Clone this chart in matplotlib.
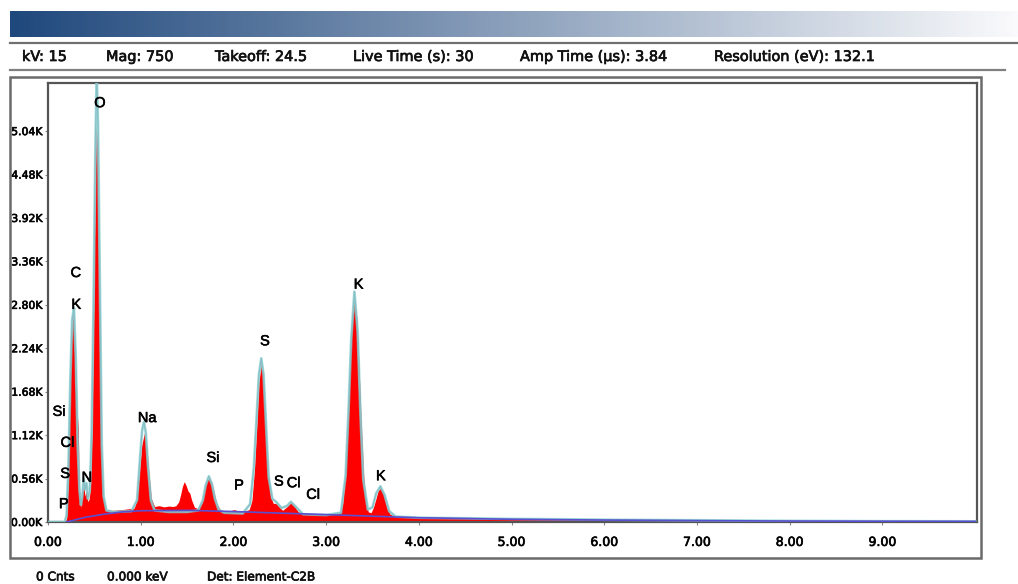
import matplotlib.pyplot as plt
import matplotlib.patheffects as pe
import numpy as np
from matplotlib.patches import Rectangle
from matplotlib.lines import Line2D

energy = [0.00, 0.18, 0.20, 0.215, 0.23, 0.245, 0.26, 0.275, 0.285, 0.295, 0.305, 0.315, 0.325,
          0.335, 0.345, 0.355, 0.37, 0.385, 0.40, 0.415, 0.43, 0.445, 0.46, 0.475, 0.49, 0.505,
          0.52, 0.535, 0.55, 0.565, 0.58, 0.60, 0.63, 0.70, 0.80, 0.93, 0.96, 0.985, 1.01, 1.04,
          1.065, 1.09, 1.115, 1.15, 1.20, 1.25, 1.30, 1.35, 1.38, 1.41, 1.43, 1.45, 1.47, 1.49,
          1.51, 1.53, 1.55, 1.58, 1.62, 1.66, 1.69, 1.715, 1.74, 1.765, 1.79, 1.82, 1.86, 1.95,
          2.01, 2.05, 2.12, 2.17, 2.20, 2.225, 2.25, 2.275, 2.30, 2.325, 2.35, 2.375, 2.40, 2.43,
          2.46, 2.49, 2.53, 2.58, 2.62, 2.66, 2.70, 2.80, 3.00, 3.155, 3.18, 3.205, 3.23, 3.255,
          3.28, 3.305, 3.33, 3.355, 3.38, 3.405, 3.43, 3.455, 3.485, 3.51, 3.535, 3.56, 3.585,
          3.61, 3.635, 3.66, 3.69, 3.75, 3.85, 4.00, 4.50, 5.00, 6.00, 7.00, 8.00, 9.00, 10.0]
counts = [0, 0, 40, 450, 1300, 2100, 2550, 2680, 2300, 1700, 2000, 1150, 1350,
          600, 280, 190, 380, 470, 330, 420, 260, 300, 500, 1200, 2400, 4000,
          5100, 4850, 3200, 1700, 700, 280, 160, 150, 160, 180, 300, 620, 980, 1150,
          980, 620, 300, 200, 210, 195, 205, 200, 210, 260, 350, 460, 520, 470,
          400, 370, 280, 190, 170, 250, 420, 540, 560, 520, 390, 240, 150, 140,
          160, 140, 140, 160, 280, 650, 1200, 1800, 2050, 1800, 1200, 650, 330, 240,
          240, 200, 150, 200, 250, 200, 130, 110, 100, 120, 250, 600, 1250, 2000,
          2650, 2850, 2650, 2000, 1250, 600, 250, 130, 120, 190, 290, 400, 440,
          400, 290, 170, 100, 75, 65, 58, 45, 38, 30, 22, 15, 10, 8]

# fitted outline
fit_energy = [0.00, 0.18, 0.20, 0.22, 0.24, 0.26, 0.28, 0.30, 0.32, 0.34, 0.355, 0.37, 0.385,
              0.40, 0.415, 0.43, 0.45, 0.47, 0.49, 0.51, 0.525, 0.54, 0.56, 0.58, 0.60, 0.63,
              0.70, 0.90, 0.96, 0.99, 1.015, 1.035, 1.055, 1.08, 1.11, 1.15, 1.30, 1.50, 1.62,
              1.67, 1.70, 1.735, 1.77, 1.80, 1.84, 1.90, 2.10, 2.18, 2.22, 2.25, 2.275, 2.30,
              2.325, 2.35, 2.38, 2.42, 2.46, 2.52, 2.58, 2.62, 2.67, 2.75, 3.00, 3.16, 3.21,
              3.24, 3.27, 3.305, 3.34, 3.37, 3.40, 3.45, 3.50, 3.54, 3.585, 3.63, 3.68, 3.75,
              4.00, 5.00, 6.00, 7.00, 8.00, 9.00, 10.0]
fit_counts = [0, 0, 80, 700, 1800, 2600, 2760, 2100, 1000, 400, 220, 330, 560,
              420, 500, 300, 400, 1100, 2700, 4700, 5800, 5100, 3000, 1000, 330, 150,
              130, 140, 280, 780, 1180, 1290, 1150, 700, 280, 150, 130, 130, 150,
              280, 470, 590, 480, 300, 160, 120, 110, 230, 700, 1350, 1900, 2110,
              1900, 1300, 580, 300, 260, 180, 210, 260, 200, 100, 90, 120, 600,
              1400, 2350, 2970, 2450, 1400, 550, 160, 190, 370, 460, 350, 140, 70,
              55, 40, 30, 22, 15, 10, 8]

# background curve
bg_energy = [0.20, 0.30, 0.40, 0.60, 0.80, 1.00, 1.50, 2.00, 2.50, 3.00, 3.50, 4.00, 5.00,
             6.00, 7.00, 8.00, 10.0]
bg_counts = [0, 30, 60, 100, 130, 145, 150, 135, 115, 95, 75, 55, 35, 25, 18, 12, 8]

# peak labels
peak_names = ['O', 'C', 'K', 'Si', 'Cl', 'S', 'N', 'P', 'Na', 'Si', 'P', 'S', 'S', 'Cl', 'Cl', 'K', 'K']
peak_x = [0.56, 0.30, 0.305, 0.12, 0.21, 0.185, 0.42, 0.17, 1.07, 1.78, 2.06, 2.34, 2.49, 2.65, 2.86, 3.35, 3.59]
peak_y = [5400, 3210, 2800, 1420, 1020, 620, 570, 230, 1340, 825, 470, 2330, 520, 500, 350, 3060, 590]

yticks = [0, 560, 1120, 1680, 2240, 2800, 3360, 3920, 4480, 5040]
xticks = [0, 1, 2, 3, 4, 5, 6, 7, 8, 9]

header = ['kV: 15', 'Mag: 750', 'Takeoff: 24.5', 'Live Time (s): 30',
          'Amp Time (\u00b5s): 3.84', 'Resolution (eV): 132.1']
header_x = [22, 106, 215, 353, 520, 714]
footer = ['0 Cnts', '0.000 keV', 'Det: Element-C2B']
footer_x = [36, 107, 207]

thick = [pe.withStroke(linewidth=0.5, foreground='#111111')]

W, H = 1018, 584
fig = plt.figure(figsize=(W / 100, H / 100), dpi=100)

# gradient banner
gax = fig.add_axes([10 / W, 1 - 37 / H, 1008 / W, 26 / H])
grad = np.linspace(0, 1, 256)
c0 = np.array([31, 72, 124]) / 255
c1 = np.array([250, 250, 252]) / 255
img = c0[None, :] * (1 - grad[:, None]) + c1[None, :] * grad[:, None]
gax.imshow(img[None, :, :], aspect='auto')
gax.axis('off')

fig.add_artist(Line2D([10 / W, 1.0], [1 - 43 / H] * 2, color='#707070', lw=1.6))
fig.add_artist(Line2D([10 / W, 1005 / W], [1 - 70 / H] * 2, color='#808080', lw=1.6))

for t, x in zip(header, header_x):
    fig.text(x / W, 1 - 57 / H, t, fontsize=10.4, family='DejaVu Sans',
             va='center', ha='left', color='#111111', path_effects=thick)
for t, x in zip(footer, footer_x):
    fig.text(x / W, 1 - 577 / H, t, fontsize=8.7, family='DejaVu Sans',
             va='center', ha='left', color='#111111', path_effects=thick)

# outer panel box
fig.add_artist(Rectangle((10 / W, 1 - 558 / H), 971 / W, 481 / H, transform=fig.transFigure,
                         fill=False, edgecolor='#6a6a6a', lw=1.8))

ax = fig.add_axes([48 / W, 1 - 522 / H, 929 / W, 439 / H])
ax.fill_between(energy, counts, 0, color='#ff0000', lw=0, zorder=2)
ax.plot(fit_energy, fit_counts, color='#8a9ea6', lw=1.0, zorder=3)
ax.plot(fit_energy, fit_counts, color='#86d0d4', lw=2.0, alpha=0.7, zorder=3)
ax.plot(bg_energy, bg_counts, color='#5a4fd0', lw=1.2, zorder=4)

for name, x, y in zip(peak_names, peak_x, peak_y):
    ax.text(x, y, name, fontsize=10.5, family='Liberation Sans', ha='center', va='center',
            color='black', zorder=5, path_effects=[pe.withStroke(linewidth=0.4, foreground='black')])

ax.set_xlim(0, 10.02)
ax.set_ylim(0, 5660)
ax.set_xticks(xticks)
ax.set_xticklabels(['%.2f' % v for v in xticks], fontsize=9, family='DejaVu Sans')
ax.set_yticks(yticks)
ax.set_yticklabels(['%.2fK' % (v / 1000) for v in yticks], fontsize=7.8, family='DejaVu Sans')
for lab in ax.get_xticklabels() + ax.get_yticklabels():
    lab.set_path_effects(thick)
ax.tick_params(axis='x', length=2, pad=8, color='#888888')
ax.tick_params(axis='y', length=2, pad=2, color='#888888')
for s in ax.spines.values():
    s.set_color('#555555')
    s.set_linewidth(1.6)

fig.savefig('out.png', dpi=100)
